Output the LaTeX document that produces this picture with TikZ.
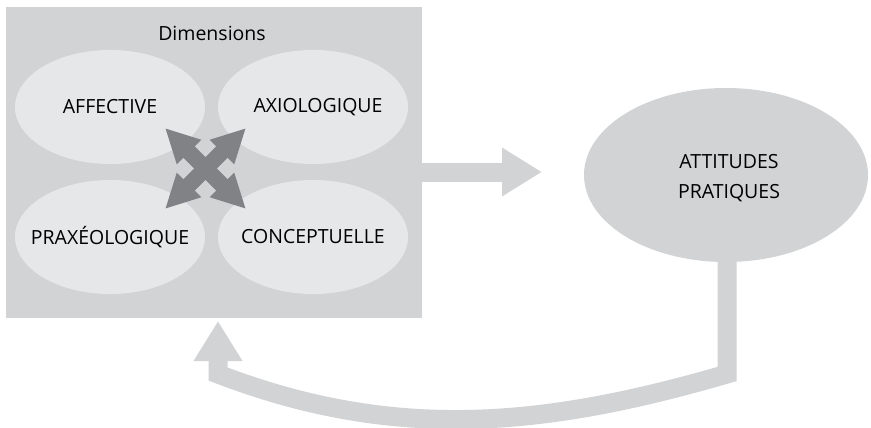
\documentclass[tikz,border=0pt]{standalone}
\usepackage{fontspec}
\setmainfont{Open Sans}
\usetikzlibrary{shapes.geometric,arrows.meta}
\definecolor{lightgrey}{HTML}{D1D3D4}
\definecolor{palegrey}{HTML}{E6E7E8}
\definecolor{darkgrey}{HTML}{808285}

\begin{document}
\begin{tikzpicture}[x=1pt, y=-1pt,
    	dim node/.style={rectangle,fill=lightgrey,minimum width=416pt,minimum height=311pt,inner sep=0pt},
    	main node/.style={ellipse,fill=palegrey,minimum width=190pt,minimum height=114pt,inner sep=0pt},
    	big arrow/.style={draw=lightgrey,line width=19pt,line join=miter,-{Triangle[length=40pt,width=46pt]}},
    	cross arrow/.style={draw=darkgrey,line width=16pt,{Triangle[length=34pt,width=32pt]}-{Triangle[length=34pt,width=32pt]}},
    	every node/.style={font=\fontsize{19.5}{30}\selectfont}]
    	
    	\useasboundingbox (0,0) rectangle (871,428);
    	
    	\node[dim node] (dim) at (214,162.5) {};
    	\node (dimlabel) at (212,33) {Dimensions};
    	
    	\node[main node, label={center:AFFECTIVE}] (aff) at (110,107) {};
    	\node[main node, label={[xshift=5pt]center:AXIOLOGIQUE}] (axio) at (313,107) {};
    	\node[main node, label={center:PRAXÉOLOGIQUE}] (praxeo) at (110,237) {};
    	\node[main node, label={center:CONCEPTUELLE}] (concept) at (313,237) {};
    	
    	\node[ellipse,fill=lightgrey,minimum width=284pt,minimum height=174pt,inner sep=0pt,
    		label={[align=center,yshift=-3pt,xshift=3pt]center:ATTITUDES\\PRATIQUES}] (att) at (726,175) {};
    	
    	% ends of the arrows
    	\coordinate (c1) at (165,128);
    	\coordinate (c2) at (246,209);
    	\coordinate (c3) at (246,128);
    	\coordinate (c4) at (165,209);
    	\coordinate (rtip) at (542,172);
    	\coordinate (btip) at (218,321);
    	\coordinate (bright) at (727,374);
    	\coordinate (bleft) at (218,374);
    	
    	\draw[cross arrow] (c1) -- (c2);
    	\draw[cross arrow] (c3) -- (c4);
    	
    	\draw[big arrow] (dim.east |- rtip) -- (rtip);
    	\draw[big arrow] (att.south -| bright) -- (bright)
    	.. controls (545,427) and (395,442) .. (bleft) -- (btip);
    	\end{tikzpicture}
\end{document}
